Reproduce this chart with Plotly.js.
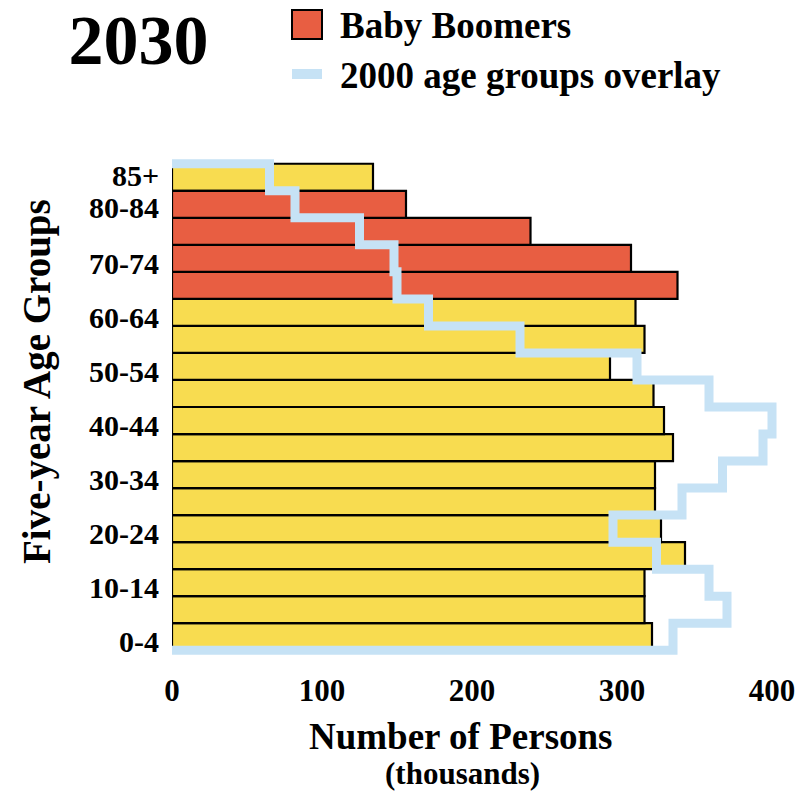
<!DOCTYPE html>
<html><head><meta charset="utf-8">
<script src="https://cdn.plot.ly/plotly-3.0.1.min.js"></script>
<style>html,body{margin:0;padding:0;background:#fff}</style>
</head><body><div id="chart" style="width:809px;height:794px"></div>
<script>
// ---- data (thousands of persons) ----
const ageGroups = ['0-4','5-9','10-14','15-19','20-24','25-29','30-34','35-39','40-44','45-49','50-54','55-59','60-64','65-69','70-74','75-79','80-84','85+'];
const pop2030 = [320,315,315,342,326,322,322,334,328,321,292,315,309,337,306,239,156,134];
const pop2000 = [334,370,358,323,294,340,367,394,400,358,310,232,171,150,148,125,82,65];
const boomerGroups = ['65-69','70-74','75-79','80-84'];
const yTickLabels = ['0-4','10-14','20-24','30-34','40-44','50-54','60-64','70-74','80-84','85+'];
const xTickVals = [0,100,200,300,400];

const FONT = 'Liberation Serif, Times New Roman, serif';
const YELLOW = '#F8DC50', RED = '#E85E42', BLUE = '#C6E2F5';

const n = ageGroups.length;
const idx = ageGroups.map((_, i) => i);
const isBoomer = ageGroups.map(g => boomerGroups.includes(g));

const yellowTrace = {
  type: 'bar', orientation: 'h', name: 'Other',
  y: idx.filter(i => !isBoomer[i]), x: idx.filter(i => !isBoomer[i]).map(i => pop2030[i]),
  width: 1, marker: {color: YELLOW, line: {color: '#000', width: 2.2}},
  showlegend: false, hoverinfo: 'x'
};
const redTrace = {
  type: 'bar', orientation: 'h', name: 'Baby Boomers',
  y: idx.filter(i => isBoomer[i]), x: idx.filter(i => isBoomer[i]).map(i => pop2030[i]),
  width: 1, marker: {color: RED, line: {color: '#000', width: 2.2}},
  showlegend: false, hoverinfo: 'x'
};
// step outline of the 2000 population
const stepX = [0], stepY = [n - 0.5];
for (let i = n - 1; i >= 0; i--) { stepX.push(pop2000[i], pop2000[i]); stepY.push(i + 0.5, i - 0.5); }
stepX.push(0); stepY.push(-0.5);
const overlayTrace = {
  type: 'scatter', mode: 'lines', name: '2000 age groups overlay',
  x: stepX, y: stepY, line: {color: BLUE, width: 9, shape: 'linear'},
  showlegend: false, hoverinfo: 'skip'
};

const L = 172, T = 157, W = 609, H = 500;
const px = x => (x - L) / W;
const py = y => 1 - (y - T) / H;

const yTickVals = yTickLabels.map(l => {
  const i = ageGroups.indexOf(l);
  return i === n - 1 ? i + 0.06 : (i === n - 2 ? i - 0.1 : i - 0.18);
});

const layout = {
  width: 809, height: 794,
  margin: {l: L, r: 809 - L - W, t: T, b: 794 - T - H},
  paper_bgcolor: '#fff', plot_bgcolor: '#fff',
  barmode: 'overlay', bargap: 0,
  showlegend: false,
  title: {text: '2030', font: {family: FONT, size: 70, weight: 'bold', color: '#000'},
          xref: 'container', yref: 'container', x: 138.5 / 809, xanchor: 'center',
          y: 1 - 39 / 794, yanchor: 'middle'},
  xaxis: {range: [0, W / 1.5], tickvals: xTickVals, ticktext: xTickVals.map(String),
          showgrid: false, zeroline: false, showline: false, ticks: '',
          ticklabelstandoff: 12,
          tickfont: {family: FONT, size: 31, weight: 'bold', color: '#000'}},
  yaxis: {range: [-0.75, n - 0.25], tickvals: yTickVals, ticktext: yTickLabels,
          showgrid: false, zeroline: false, showline: false, ticks: '',
          ticklabelstandoff: 12,
          tickfont: {family: FONT, size: 30, weight: 'bold', color: '#000'}},
  shapes: [
    {type: 'rect', xref: 'paper', yref: 'paper', x0: px(292), x1: px(322), y0: py(10), y1: py(39),
     fillcolor: RED, line: {color: '#000', width: 2}},
    {type: 'rect', xref: 'paper', yref: 'paper', x0: px(292), x1: px(322), y0: py(69), y1: py(79),
     fillcolor: BLUE, line: {width: 0}}
  ],
  annotations: [
    {text: 'Baby Boomers', xref: 'paper', yref: 'paper', x: px(338), y: py(25),
     xanchor: 'left', yanchor: 'middle', showarrow: false,
     font: {family: FONT, size: 37, weight: 'bold', color: '#000'}},
    {text: '2000 age groups overlay', xref: 'paper', yref: 'paper', x: px(338), y: py(75),
     xanchor: 'left', yanchor: 'middle', showarrow: false,
     font: {family: FONT, size: 37, weight: 'bold', color: '#000'}},
    {text: 'Number of Persons', xref: 'paper', yref: 'paper', x: px(461), y: py(736),
     xanchor: 'center', yanchor: 'middle', showarrow: false,
     font: {family: FONT, size: 37, weight: 'bold', color: '#000'}},
    {text: '(thousands)', xref: 'paper', yref: 'paper', x: px(462), y: py(773),
     xanchor: 'center', yanchor: 'middle', showarrow: false,
     font: {family: FONT, size: 31, weight: 'bold', color: '#000'}},
    {text: 'Five-year Age Groups', xref: 'paper', yref: 'paper', x: px(37), y: py(382),
     xanchor: 'center', yanchor: 'middle', textangle: -90, showarrow: false,
     font: {family: FONT, size: 39, weight: 'bold', color: '#000'}}
  ]
};

Plotly.newPlot('chart', [yellowTrace, redTrace, overlayTrace], layout, {displayModeBar: false, staticPlot: true});
</script></body></html>
